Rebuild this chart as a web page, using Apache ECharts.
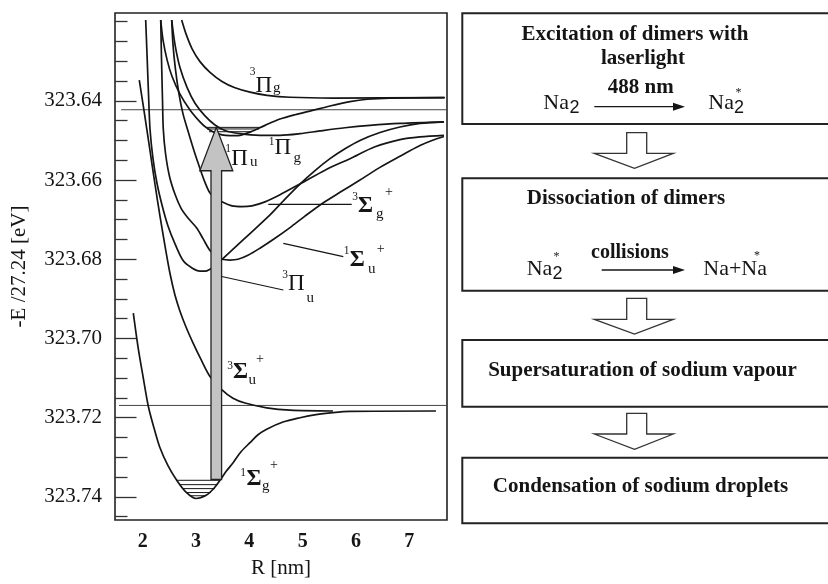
<!DOCTYPE html>
<html>
<head>
<meta charset="utf-8">
<script src="https://cdn.jsdelivr.net/npm/echarts@6/dist/echarts.min.js"></script>
<style>
  html, body { margin: 0; padding: 0; background: #fff; }
  #chart { width: 828px; height: 584px; }
</style>
</head>
<body>
<div id="chart"></div>
<script>
const SERIF = "'Liberation Serif','Times New Roman',serif";
const SANS = "'Liberation Sans',Arial,sans-serif";
const INK = '#151515';

// Axis ticks
const xTickValues = [2, 3, 4, 5, 6, 7];
const yMajorTicks = [323.64, 323.66, 323.68, 323.70, 323.72, 323.74];
const yMinorTicks = [323.62, 323.625, 323.63, 323.635, 323.645, 323.65, 323.655,
  323.665, 323.67, 323.675, 323.685, 323.69, 323.695, 323.705, 323.71, 323.715,
  323.725, 323.73, 323.735, 323.745];

// Potential curves: [R (nm), -E/27.24 (eV)]
const groundSigmaG = [
  [1.824, 323.6936], [1.912, 323.7021], [2.006, 323.7096], [2.105, 323.7171],
  [2.212, 323.7226], [2.324, 323.7276], [2.474, 323.7321], [2.638, 323.7358],
  [2.812, 323.7388], [3.000, 323.7404], [3.187, 323.7396], [3.337, 323.7378],
  [3.449, 323.7358], [3.562, 323.7336], [3.699, 323.7313], [3.843, 323.7286],
  [4.012, 323.7263], [4.162, 323.7243], [4.325, 323.7229], [4.631, 323.7211],
  [4.949, 323.7200], [5.249, 323.7192], [5.568, 323.7187], [5.887, 323.7184],
  [7.499, 323.7183]
];
const tripletSigmaU = [
  [1.936, 323.6348], [2.043, 323.6441], [2.137, 323.6526], [2.231, 323.6611],
  [2.324, 323.6691], [2.418, 323.6766], [2.512, 323.6836], [2.606, 323.6891],
  [2.699, 323.6931], [2.812, 323.6971], [2.943, 323.7011], [3.093, 323.7053],
  [3.262, 323.7096], [3.481, 323.7129], [3.693, 323.7151], [3.918, 323.7163],
  [4.325, 323.7175], [4.762, 323.7181], [5.568, 323.7183]
];
const tripletPiU = [
  [2.056, 323.6196], [2.081, 323.6283], [2.109, 323.6383], [2.137, 323.6471],
  [2.193, 323.6546], [2.268, 323.6608], [2.362, 323.6663], [2.474, 323.6716],
  [2.606, 323.6761], [2.761, 323.6804], [2.924, 323.6822], [3.074, 323.6830],
  [3.168, 323.6830], [3.262, 323.6825], [3.374, 323.6815], [3.481, 323.6801],
  [3.731, 323.6770], [4.012, 323.6735], [4.387, 323.6688], [4.668, 323.6648],
  [4.949, 323.6610], [5.231, 323.6576], [5.512, 323.6546], [5.793, 323.6521],
  [6.074, 323.6500], [6.449, 323.6480], [6.824, 323.6466], [7.199, 323.6457],
  [7.649, 323.6453]
];
const singletSigmaU = [
  [2.338, 323.6196], [2.353, 323.6296], [2.371, 323.6396], [2.386, 323.6471],
  [2.428, 323.6533], [2.503, 323.6591], [2.606, 323.6636], [2.718, 323.6671],
  [2.849, 323.6696], [3.013, 323.6721], [3.131, 323.6748], [3.262, 323.6778],
  [3.374, 323.6792], [3.487, 323.6800], [3.637, 323.6802], [3.787, 323.6800],
  [3.974, 323.6790], [4.199, 323.6772], [4.481, 323.6747], [4.762, 323.6720],
  [5.043, 323.6691], [5.381, 323.6658], [5.699, 323.6631], [6.074, 323.6600],
  [6.449, 323.6568], [6.824, 323.6540], [7.199, 323.6513], [7.424, 323.6500],
  [7.649, 323.6490]
];
const tripletSigmaG = [
  [2.544, 323.6196], [2.568, 323.6258], [2.615, 323.6321], [2.681, 323.6383],
  [2.756, 323.6433], [2.849, 323.6476], [2.962, 323.6526], [3.074, 323.6571],
  [3.168, 323.6606], [3.262, 323.6633], [3.374, 323.6647], [3.487, 323.6655],
  [3.674, 323.6665], [3.862, 323.6667], [4.049, 323.6665], [4.293, 323.6655],
  [4.574, 323.6637], [4.949, 323.6610], [5.418, 323.6575], [5.887, 323.6546],
  [6.356, 323.6516], [6.824, 323.6498], [7.199, 323.6491], [7.649, 323.6487]
];
const singletPiU = [
  [2.338, 323.6196], [2.381, 323.6246], [2.456, 323.6296], [2.549, 323.6338],
  [2.699, 323.6383], [2.887, 323.6423], [3.074, 323.6453], [3.187, 323.6467],
  [3.318, 323.6478], [3.487, 323.6486], [3.637, 323.6488], [3.824, 323.6487],
  [4.049, 323.6477], [4.293, 323.6462], [4.574, 323.6446], [4.856, 323.6435],
  [5.137, 323.6426], [5.512, 323.6413], [5.887, 323.6402], [6.206, 323.6396],
  [6.637, 323.6393], [7.649, 323.6392]
];
const singletPiG = [
  [2.544, 323.6196], [2.606, 323.6258], [2.699, 323.6316], [2.831, 323.6366],
  [2.981, 323.6406], [3.168, 323.6438], [3.356, 323.6461], [3.543, 323.6475],
  [3.824, 323.6483], [4.199, 323.6487], [4.574, 323.6487], [4.949, 323.6483],
  [5.324, 323.6476], [5.793, 323.6468], [6.262, 323.6462], [6.824, 323.6457],
  [7.649, 323.6453]
];
const tripletPiG = [
  [2.731, 323.6196], [2.812, 323.6231], [2.924, 323.6268], [3.074, 323.6301],
  [3.262, 323.6328], [3.487, 323.6351], [3.731, 323.6367], [4.012, 323.6378],
  [4.331, 323.6386], [4.762, 323.6391], [5.568, 323.6393], [7.668, 323.6392]
];

// Dissociation limits
const limitUpper = [[1.595, 323.64225], [7.706, 323.64225]];
const limitLower = [[1.556, 323.7169], [7.706, 323.7169]];

// Vibrational levels: [R left, R right, energy]
const groundLevels = [
  [2.638, 3.449, 323.7358], [2.690, 3.403, 323.7369], [2.756, 3.356, 323.7379],
  [2.821, 3.281, 323.7389], [2.896, 3.187, 323.7397]
];
const excitedLevels = [
  [3.178, 4.237, 323.6467], [3.206, 4.180, 323.6471], [3.243, 4.050, 323.6478]
];

// Laser excitation: [R, lower energy, upper energy]
const excitation = [[3.38, 323.7356, 323.6467]];

const curves = [groundSigmaG, tripletSigmaU, tripletPiU, singletSigmaU,
  tripletSigmaG, singletPiU, singletPiG, tripletPiG];

const chart = echarts.init(document.getElementById('chart'), null, { renderer: 'canvas' });

const curveSeries = curves.map(d => ({
  type: 'line', data: d, xAxisIndex: 0, yAxisIndex: 0,
  symbol: 'none', smooth: 0.3, silent: true, z: 3,
  lineStyle: { color: INK, width: 1.7 }
}));
const limitSeries = [limitUpper, limitLower].map(d => ({
  type: 'line', data: d, symbol: 'none', silent: true, z: 2,
  lineStyle: { color: '#444', width: 1 }
}));
function levelSeries(d) {
  return {
    type: 'custom', data: d, silent: true, z: 3,
    encode: { x: [0, 1], y: 2 },
    renderItem(params, api) {
      const a = api.coord([api.value(0), api.value(2)]);
      const b = api.coord([api.value(1), api.value(2)]);
      return { type: 'line', shape: { x1: a[0], y1: a[1], x2: b[0], y2: b[1] },
        style: { stroke: INK, lineWidth: 1 } };
    }
  };
}
const arrowSeries = {
  type: 'custom', data: excitation, silent: true, z: 6,
  encode: { x: 0, y: [1, 2] },
  renderItem(params, api) {
    const base = api.coord([api.value(0), api.value(1)]);
    const tip = api.coord([api.value(0), api.value(2)]);
    const x = base[0], sw = 5.3, hw = 16.5, hl = 43.4;
    const hy = tip[1] + hl;
    return {
      type: 'polygon',
      shape: { points: [[x - sw, base[1]], [x - sw, hy], [x - hw, hy], [x, tip[1]],
        [x + hw, hy], [x + sw, hy], [x + sw, base[1]]] },
      style: { fill: '#c3c3c3', stroke: '#222', lineWidth: 1.3 }
    };
  }
};

// Term symbol labels and leader lines (pixel positions)
const termParts = [
  ['3', 255.5, 72, 11.5, 'normal', 'right'], ['Π', 255.5, 85.5, 23, 'normal', 'left'], ['g', 273, 88.5, 15, 'normal', 'left'],
  ['1', 231, 148.5, 11.5, 'normal', 'right'], ['Π', 231.2, 159.2, 23, 'normal', 'left'], ['u', 250, 162, 15, 'normal', 'left'],
  ['1', 274.5, 142, 11.5, 'normal', 'right'], ['Π', 274.5, 148.3, 23, 'normal', 'left'], ['g', 293.5, 158.5, 15, 'normal', 'left'],
  ['3', 358, 196.5, 11.5, 'normal', 'right'], ['Σ', 358, 205.8, 23, 'bold', 'left'], ['g', 376, 214.5, 15, 'normal', 'left'], ['+', 385, 192.5, 14, 'normal', 'left'],
  ['1', 349.5, 251, 11.5, 'normal', 'right'], ['Σ', 349.7, 260, 23, 'bold', 'left'], ['u', 368, 269, 15, 'normal', 'left'], ['+', 376.7, 249, 14, 'normal', 'left'],
  ['3', 288, 275, 11.5, 'normal', 'right'], ['Π', 288, 284.2, 23, 'normal', 'left'], ['u', 306.5, 298, 15, 'normal', 'left'],
  ['3', 233, 365.5, 11.5, 'normal', 'right'], ['Σ', 233, 372.5, 23, 'bold', 'left'], ['u', 248.5, 380.5, 15, 'normal', 'left'], ['+', 256, 359.3, 14, 'normal', 'left'],
  ['1', 246, 472.5, 11.5, 'normal', 'right'], ['Σ', 246.4, 479.2, 23, 'bold', 'left'], ['g', 262, 486.5, 15, 'normal', 'left'], ['+', 270, 465.8, 14, 'normal', 'left']
];
const leaders = [
  [268.3, 204.3, 351.7, 204.3],
  [283.3, 243.3, 343.3, 256.7],
  [221.7, 276.5, 283.3, 290]
];

function txt(s, x, y, size, weight, align, family) {
  return { type: 'text', x, y, z: 10, silent: true,
    style: { text: s, fontSize: size, fontWeight: weight || 'normal',
      fontFamily: family || SERIF, fill: INK, align: align || 'left', verticalAlign: 'middle' } };
}
function seg(x1, y1, x2, y2, w, color) {
  return { type: 'line', z: 10, silent: true, shape: { x1, y1, x2, y2 },
    style: { stroke: color || INK, lineWidth: w || 1.3 } };
}
function rightArrow(x1, x2, y) {
  return [seg(x1, y, x2 - 10, y, 1.3),
    { type: 'polygon', z: 10, silent: true,
      shape: { points: [[x2 - 12, y - 4], [x2, y], [x2 - 12, y + 4]] },
      style: { fill: INK } }];
}
function box(y1, y2) {
  return { type: 'rect', z: 10, silent: true,
    shape: { x: 462.3, y: y1, width: 380, height: y2 - y1 },
    style: { fill: 'none', stroke: '#222', lineWidth: 2 } };
}
function blockArrow(top, headY, tipY) {
  return { type: 'polygon', z: 10, silent: true,
    shape: { points: [[626.7, top], [646.7, top], [646.7, headY], [673.3, headY],
      [634.5, tipY], [594.3, headY], [626.7, headY]] },
    style: { fill: '#fff', stroke: '#333', lineWidth: 1.3 } };
}

const graphics = [];
termParts.forEach(p => graphics.push(txt(p[0], p[1], p[2], p[3], p[4], p[5])));
leaders.forEach(l => graphics.push(seg(l[0], l[1], l[2], l[3], 1.2)));

// Process flow
graphics.push(box(13.3, 124), box(178.3, 290.7), box(340, 406.7), box(457.7, 523.3));
graphics.push(blockArrow(132.7, 153.3, 168.3), blockArrow(298.3, 319.3, 334), blockArrow(413.3, 434, 449.3));

graphics.push(txt('Excitation of dimers with', 635, 35, 21, 'bold', 'center'));
graphics.push(txt('laserlight', 643, 59, 21, 'bold', 'center'));
graphics.push(txt('488 nm', 640.8, 87.5, 21, 'bold', 'center'));
graphics.push(txt('Na', 543.3, 103.5, 22, 'normal', 'left'));
graphics.push(txt('2', 569.5, 108, 18, 'normal', 'left', SANS));
graphics.push(...rightArrow(594.3, 685, 106.7));
graphics.push(txt('Na', 708.3, 103.5, 22, 'normal', 'left'));
graphics.push(txt('2', 734, 108, 18, 'normal', 'left', SANS));
graphics.push(txt('*', 735.5, 93, 12, 'normal', 'left'));

graphics.push(txt('Dissociation of dimers', 626, 199, 21, 'bold', 'center'));
graphics.push(txt('collisions', 630, 252.5, 20, 'bold', 'center'));
graphics.push(txt('Na', 526.7, 269, 22, 'normal', 'left'));
graphics.push(txt('2', 552.5, 274, 18, 'normal', 'left', SANS));
graphics.push(txt('*', 553.5, 257, 12, 'normal', 'left'));
graphics.push(...rightArrow(601.7, 685, 270));
graphics.push(txt('Na+Na', 703.3, 269, 22, 'normal', 'left'));
graphics.push(txt('*', 754, 256, 12, 'normal', 'left'));

graphics.push(txt('Supersaturation of sodium vapour', 642.5, 371, 21, 'bold', 'center'));
graphics.push(txt('Condensation of sodium droplets', 640.5, 486.5, 21, 'bold', 'center'));

const yRange = { min: 323.617825, max: 323.745825 };

chart.setOption({
  animation: false,
  backgroundColor: '#fff',
  grid: { left: 115, top: 13, width: 332, height: 512, containLabel: false,
    show: true, borderColor: '#222', borderWidth: 1.6, backgroundColor: 'transparent' },
  xAxis: {
    type: 'value', min: 1.4806, max: 7.706,
    name: 'R [nm]', nameLocation: 'middle', nameGap: 38,
    nameTextStyle: { fontFamily: SERIF, fontSize: 21, color: INK },
    axisLine: { show: false }, axisTick: { show: false }, splitLine: { show: false },
    axisLabel: { customValues: xTickValues, fontFamily: SERIF, fontWeight: 'bold',
      fontSize: 20, color: INK, margin: 12 }
  },
  yAxis: [
    {
      type: 'value', inverse: true, min: yRange.min, max: yRange.max,
      name: '-E /27.24 [eV]', nameLocation: 'middle', nameGap: 85, nameRotate: 90,
      nameTextStyle: { fontFamily: SERIF, fontSize: 21, color: INK },
      axisLine: { show: false }, splitLine: { show: false },
      axisTick: { show: true, inside: true, length: 21.5, customValues: yMajorTicks,
        lineStyle: { color: '#333', width: 1.3 } },
      axisLabel: { customValues: yMajorTicks, formatter: v => v.toFixed(2),
        fontFamily: SERIF, fontSize: 21, color: INK, margin: 13 }
    },
    {
      type: 'value', inverse: true, min: yRange.min, max: yRange.max, position: 'left',
      axisLine: { show: false }, splitLine: { show: false }, axisLabel: { show: false },
      axisTick: { show: true, inside: true, length: 12.5, customValues: yMinorTicks,
        lineStyle: { color: '#333', width: 1.3 } }
    }
  ],
  series: [...limitSeries, ...curveSeries, levelSeries(groundLevels),
    levelSeries(excitedLevels), arrowSeries],
  graphic: graphics
});
</script>
</body>
</html>
